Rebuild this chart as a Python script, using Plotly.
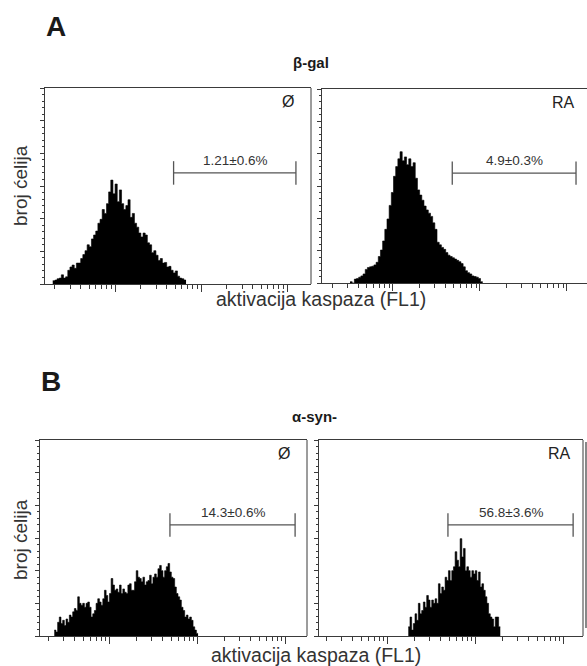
import math
import plotly.graph_objects as go

# ---------------- data ----------------
# histogram counts per channel bin (log-spaced channels), y scale 0-300
bgal_ctrl_counts = [5, 6, 8, 9, 14, 9, 11, 21, 26, 29, 24, 32, 32, 39, 45, 51, 60, 57, 69, 75,
                    81, 93, 99, 114, 108, 123, 141, 159, 138, 153, 126, 144, 123, 114, 120, 129,
                    102, 108, 93, 87, 78, 72, 78, 75, 63, 60, 48, 51, 44, 36, 39, 32, 33, 26, 27,
                    21, 17, 20, 12, 9, 8, 6]
bgal_ra_counts = [2, 0, 6, 7, 9, 11, 14, 21, 24, 25, 26, 28, 32, 41, 51, 65, 83, 99, 120, 140,
                  165, 180, 192, 203, 189, 195, 183, 192, 180, 186, 162, 144, 136, 128, 119, 113,
                  108, 103, 93, 83, 63, 59, 55, 52, 47, 43, 41, 39, 37, 35, 33, 30, 25, 19, 16,
                  14, 11, 10, 9, 7, 2]
asyn_ctrl_counts = [9, 6, 21, 29, 19, 24, 16, 26, 21, 32, 29, 37, 42, 39, 60, 50, 47, 50, 44, 50,
                    52, 44, 29, 34, 39, 50, 57, 52, 47, 57, 70, 62, 52, 65, 88, 78, 70, 72, 67, 78,
                    65, 72, 67, 65, 78, 80, 70, 70, 83, 100, 90, 88, 83, 90, 78, 83, 85, 93, 80, 90,
                    95, 90, 103, 108, 100, 90, 100, 106, 111, 98, 90, 88, 75, 65, 60, 55, 44, 39,
                    29, 32, 26, 29, 24, 14, 9, 4]
asyn_ra_counts = [14, 29, 9, 19, 34, 24, 50, 34, 39, 52, 44, 62, 55, 44, 55, 50, 57, 50, 80, 65,
                  75, 70, 90, 85, 100, 85, 100, 106, 129, 116, 106, 149, 121, 134, 100, 106, 100,
                  90, 100, 95, 100, 85, 98, 75, 80, 70, 60, 50, 34, 29, 26, 14, 29, 29, 14]

# channel grid: first channel (log10 FL1) and channel width (decades)
hist_start = [0.276, 0.506, 0.367, 1.231]
hist_step = [0.025, 0.025, 0.019, 0.019]

gate_lo, gate_hi = 48, 1270
gate_y = 170
gate_labels = ["1.21\u00b10.6%", "4.9\u00b10.3%", "14.3\u00b10.6%", "56.8\u00b13.6%"]
corner_labels = ["\u00d8", "RA", "\u00d8", "RA"]
titles = ["\u03b2-gal", "\u03b1-syn-"]
panel_letters = ["A", "B"]
ylabel = "broj \u0107elija"
xlabel = "aktivacija kaspaza (FL1)"

# ---------------- layout geometry ----------------
W, H = 587, 666
def px(x): return x / W
def py(y): return 1 - y / H

panels = [
    dict(x=(45, 311), y=(88, 284), xr=(0.186, 3.279), right=True),
    dict(x=(322, 587), y=(89, 283), xr=(0.184, 3.230), right=False),
    dict(x=(40, 307), y=(440, 636), xr=(0.2045, 3.239), right=True),
    dict(x=(319, 583), y=(440, 636), xr=(0.216, 3.216), right=True),
]
all_counts = [bgal_ctrl_counts, bgal_ra_counts, asyn_ctrl_counts, asyn_ra_counts]

fig = go.Figure()
FONT = "Arial, Liberation Sans, sans-serif"
LINEC = "#3a3a3a"

major_x = [10, 100, 1000]
minor_x = [m * 10 ** d for d in range(0, 4) for m in range(2, 10)]

for i, (p, counts) in enumerate(zip(panels, all_counts)):
    n = i + 1
    xa = "x" if n == 1 else f"x{n}"
    ya = "y" if n == 1 else f"y{n}"
    s0, st = hist_start[i], hist_step[i]
    xs = [10 ** (s0 + k * st) for k in range(len(counts) + 1)]
    ys = list(counts) + [counts[-1]]
    fig.add_trace(go.Scatter(x=xs, y=ys, xaxis=xa, yaxis=ya, mode="lines",
                             line=dict(shape="hv", color="black", width=0.6),
                             fill="tozeroy", fillcolor="black", hoverinfo="skip",
                             showlegend=False))
    # gate marker
    fig.add_trace(go.Scatter(x=[gate_lo, gate_hi], y=[gate_y, gate_y], xaxis=xa, yaxis=ya,
                             mode="lines", line=dict(color="#555555", width=1.3),
                             hoverinfo="skip", showlegend=False))
    for gx in (gate_lo, gate_hi):
        fig.add_trace(go.Scatter(x=[gx, gx], y=[gate_y - 18, gate_y + 18], xaxis=xa, yaxis=ya,
                                 mode="lines", line=dict(color="#555555", width=1.3),
                                 hoverinfo="skip", showlegend=False))
    fig.add_annotation(x=0.5 * (math.log10(gate_lo) + math.log10(gate_hi)),
                       y=gate_y + 5, xref=xa, yref=ya, text=gate_labels[i], showarrow=False,
                       xanchor="center", yanchor="bottom",
                       font=dict(family=FONT, size=13.5, color="#333333"))
    fig.add_annotation(x=1, y=1, xref=f"{xa} domain", yref=f"{ya} domain",
                       text=corner_labels[i], showarrow=False, xanchor="right", yanchor="top",
                       xshift=-15 if i % 2 == 0 else -10, yshift=-3,
                       font=dict(family=FONT, size=16, color="#222222"))

    axkey = "xaxis" if n == 1 else f"xaxis{n}"
    aykey = "yaxis" if n == 1 else f"yaxis{n}"
    fig.update_layout(**{
        axkey: dict(domain=[px(p["x"][0]), min(px(p["x"][1]), 1.0)], type="log",
                    range=list(p["xr"]), anchor=ya, showgrid=False, zeroline=False,
                    showline=True, mirror=True, linecolor=LINEC, linewidth=1,
                    tickmode="array", tickvals=major_x, ticks="outside", ticklen=7,
                    tickcolor=LINEC, tickwidth=1, showticklabels=False,
                    minor=dict(tickmode="array", tickvals=minor_x, ticks="outside",
                               ticklen=4, tickcolor=LINEC, tickwidth=1, showgrid=False)),
        aykey: dict(domain=[py(p["y"][1]), py(p["y"][0])], range=[0, 300], anchor=xa,
                    showgrid=False, zeroline=False, showline=True, mirror=False,
                    linecolor=LINEC, linewidth=1, ticks="outside", dtick=50, ticklen=4,
                    tickcolor=LINEC, tickwidth=1, showticklabels=False,
                    minor=dict(dtick=10, ticks="outside", ticklen=2.5, tickcolor=LINEC,
                               tickwidth=1, showgrid=False)),
    })
    if p["right"]:
        fig.add_shape(type="line", xref=f"{xa} domain", yref=f"{ya} domain",
                      x0=1, x1=1, y0=0, y1=1, line=dict(color=LINEC, width=1))

# stray edge of a neighbouring panel at the far right of B
fig.add_shape(type="line", xref="paper", yref="paper", x0=px(586), x1=px(586),
              y0=py(628), y1=py(442), line=dict(color=LINEC, width=1.2))

def label(x, y, text, size, color="#1a1a1a", angle=0):
    fig.add_annotation(x=px(x), y=py(y), xref="paper", yref="paper", text=text,
                       showarrow=False, xanchor="center", yanchor="middle", textangle=angle,
                       font=dict(family=FONT, size=size, color=color))

# panel letters and titles
label(56, 26, f"<b>{panel_letters[0]}</b>", 28)
label(51, 381, f"<b>{panel_letters[1]}</b>", 28)
label(311, 62, f"<b>{titles[0]}</b>", 15)
label(314, 416, f"<b>{titles[1]}</b>", 15)

# axis titles
for yc in (186, 540):
    label(20, yc, ylabel, 19, "#333333", -90)
for xc, yc in ((321, 299), (316, 655)):
    label(xc, yc, xlabel, 19.5, "#333333")

fig.update_layout(width=W, height=H, margin=dict(l=0, r=0, t=0, b=0),
                  paper_bgcolor="white", plot_bgcolor="white", showlegend=False)

fig.write_html("out.html")
